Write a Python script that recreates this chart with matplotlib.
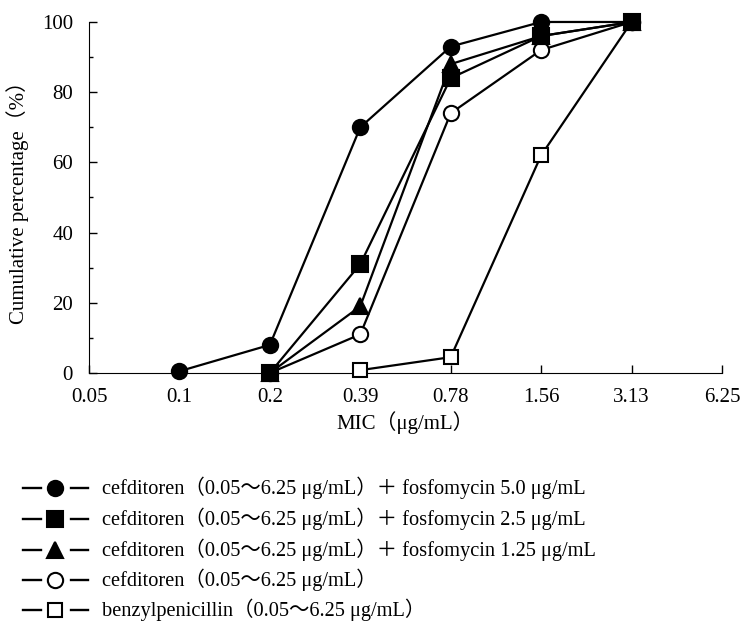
import matplotlib
matplotlib.use("Agg")
import matplotlib.pyplot as plt
from matplotlib.lines import Line2D
from matplotlib.ticker import MultipleLocator

plt.rcParams['font.family'] = ['Liberation Serif', 'Noto Sans CJK JP']

mic = ['0.05', '0.1', '0.2', '0.39', '0.78', '1.56', '3.13', '6.25']

# series: (first index on the MIC axis, cumulative %)
cfdn_fom50_start = 1
cfdn_fom50 = [0.5, 8, 70, 93, 100, 100]
cfdn_fom25_start = 2
cfdn_fom25 = [0, 31, 84, 96, 100]
cfdn_fom125_start = 2
cfdn_fom125 = [0, 19, 88, 96, 100]
cfdn_start = 2
cfdn = [0, 11, 74, 92, 100]
pcg_start = 3
pcg = [0.8, 4.5, 62, 100]

labels = [
    'cefditoren（0.05～6.25 μg/mL）＋ fosfomycin 5.0 μg/mL',
    'cefditoren（0.05～6.25 μg/mL）＋ fosfomycin 2.5 μg/mL',
    'cefditoren（0.05～6.25 μg/mL）＋ fosfomycin 1.25 μg/mL',
    'cefditoren（0.05～6.25 μg/mL）',
    'benzylpenicillin（0.05～6.25 μg/mL）',
]

series = [
    (cfdn_fom50_start, cfdn_fom50, 'o', 'k'),
    (cfdn_fom25_start, cfdn_fom25, 's', 'k'),
    (cfdn_fom125_start, cfdn_fom125, '^', 'k'),
    (cfdn_start, cfdn, 'o', 'w'),
    (pcg_start, pcg, 's', 'w'),
]
msize = [11, 11, 11, 11, 10.5]
zord = [9, 10, 8, 7, 6]  # filled squares end up on top

fs = 15

fig = plt.figure(figsize=(7.42, 6.21), dpi=100)
ax = fig.add_axes([0.12, 0.3994, 0.853, 0.5652])

for i in range(len(series)):
    start, vals, m, fc = series[i]
    xs = list(range(start, start + len(vals)))
    ax.plot(xs, vals, color='k', lw=1.6, marker=m, markersize=msize[i],
            markerfacecolor=fc, markeredgecolor='k', markeredgewidth=1.5,
            clip_on=False, zorder=zord[i])

ax.set_xlim(0, len(mic) - 1)
ax.set_ylim(0, 100)
ax.set_xticks(range(len(mic)))
ax.set_xticklabels(mic)
ax.yaxis.set_major_locator(MultipleLocator(20))
ax.yaxis.set_minor_locator(MultipleLocator(10))
ax.tick_params(axis='both', which='major', direction='in', length=6, width=1,
               labelsize=fs)
ax.tick_params(axis='x', which='major', pad=10.5)
ax.tick_params(axis='y', which='major', pad=11.5)
ax.tick_params(axis='y', which='minor', direction='in', length=3, width=1)
ax.spines['top'].set_visible(False)
ax.spines['right'].set_visible(False)

ax.set_xlabel('MIC（μg/mL）', fontsize=fs, labelpad=3.5)
ax.set_ylabel('Cumulative percentage（%）', fontsize=fs, labelpad=9)

# legend drawn below the plot
W, H = 742.0, 621.0
row_y = [488, 519, 550, 580, 610]
for i, (start, vals, m, fc) in enumerate(series):
    yy = 1 - row_y[i] / H
    fig.add_artist(Line2D([23 / W, 41 / W], [yy, yy], color='k', lw=1.7))
    fig.add_artist(Line2D([71 / W, 88 / W], [yy, yy], color='k', lw=1.7))
    fig.add_artist(Line2D([55 / W], [yy], marker=m, markersize=msize[i],
                          markerfacecolor=fc, markeredgecolor='k',
                          markeredgewidth=1.5, linestyle=''))
    fig.text(102 / W, yy, labels[i], fontsize=14.7, va='center', ha='left')

fig.savefig('out.png', dpi=100)
